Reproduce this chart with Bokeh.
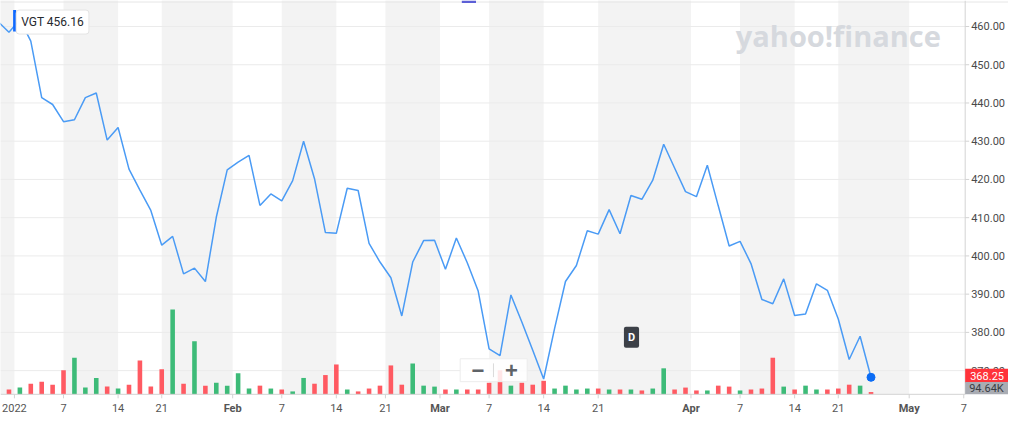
import numpy as np
import pandas as pd
from bokeh.plotting import figure
from bokeh.models import Range1d, ColumnDataSource, Label
from bokeh.core.properties import value
from bokeh.embed import file_html
from bokeh.resources import INLINE

# ---------------- data ----------------
symbol = "VGT"
holidays = ["2022-01-17", "2022-02-21", "2022-04-15"]
trading_days = [d for d in pd.bdate_range("2021-12-30", "2022-05-13")
                if d.strftime("%Y-%m-%d") not in holidays]

# daily closes, Dec 30 2021 .. Apr 26 2022
close = [461.3, 458.5, 461.8, 456.16, 441.4, 439.6, 435.1, 435.6, 441.4, 442.6,
         430.3, 433.6, 422.7, 417.2, 411.9, 402.8, 405.1, 395.3, 396.8, 393.3,
         410.1, 422.5, 424.5, 426.3, 413.2, 416.2, 414.4, 419.7, 430.0, 420.2,
         406.1, 405.9, 417.7, 417.1, 403.3, 398.4, 394.3, 384.3, 398.4, 404.0,
         404.1, 396.5, 404.7, 398.2, 390.8, 375.7, 373.9, 389.8, 382.7, 375.3,
         367.8, 381.0, 393.3, 397.5, 406.6, 405.7, 412.1, 405.8, 415.8, 414.8,
         419.8, 429.2, 423.0, 416.8, 415.5, 423.7, 413.1, 402.6, 403.8, 398.0,
         388.6, 387.5, 394.0, 384.4, 384.8, 392.7, 391.0, 383.5, 372.9, 379.0,
         368.25]
# volume in thousands of shares (same days)
volume = [0, 200, 280, 440, 520, 400, 1000, 1520, 280, 680, 320, 240, 400, 1400, 320,
          1040, 3520, 440, 2200, 360, 480, 360, 880, 240, 360, 240, 200, 120, 680, 440,
          800, 1240, 200, 120, 240, 360, 1200, 400, 1280, 360, 320, 200, 200, 200, 200,
          480, 1000, 360, 480, 400, 560, 240, 360, 200, 240, 240, 200, 200, 200, 160,
          240, 1080, 200, 280, 160, 160, 360, 320, 160, 200, 240, 1520, 320, 200, 360,
          200, 200, 240, 400, 360, 94.64]

tick_dates = ["2022-01-01", "2022-01-07", "2022-01-14", "2022-01-21", "2022-02-01",
              "2022-02-07", "2022-02-14", "2022-02-21", "2022-03-01", "2022-03-07",
              "2022-03-14", "2022-03-21", "2022-04-01", "2022-04-07", "2022-04-14",
              "2022-04-21", "2022-05-01", "2022-05-07"]
tick_labels = ["2022", "7", "14", "21", "Feb", "7", "14", "21", "Mar", "7", "14", "21",
               "Apr", "7", "14", "21", "May", "7"]
price_ticks = [370, 380, 390, 400, 410, 420, 430, 440, 450, 460]

# ---------------- derived ----------------
td = pd.DatetimeIndex(trading_days)
n = len(close)
xs = list(range(-1, n - 1))            # Dec 31 2021 is index 0 (trading-day axis)
colors = ["#ff5a62" if i == 0 or close[i] < close[i - 1] else "#3dbb78" for i in range(n)]


def tick_pos(ds, lab):
    d = pd.Timestamp(ds)
    j = int(td.searchsorted(d))
    if td[j] == d and lab.isdigit():
        return j - 1.0
    return j - 1.5


tpos = [tick_pos(d, l) for d, l in zip(tick_dates, tick_labels)]

# view window (whole chart incl. price-axis strip and date strip)
FW, FH = 1008, 415
XR0, XR1, XE = -0.776, 91.6, 87.63         # XE: edge of price area
YR0, YR1, YB = 358.26, 466.8, 363.8        # YB: date axis line
VR0, VR1 = -880, 16360
sx = FW / (XR1 - XR0)
sy = FH / (YR1 - YR0)
vy = FH / (VR1 - VR0)
FONT = value("Roboto")

p = figure(width=FW, height=FH, output_backend="svg", toolbar_location=None,
           x_range=Range1d(XR0, XR1), y_range=Range1d(YR0, YR1),
           x_axis_location=None, y_axis_location=None,
           min_border=0, background_fill_color="white", border_fill_color="white")
p.extra_y_ranges = {"vol": Range1d(VR0, VR1)}
p.outline_line_color = None
p.grid.visible = False

# alternating background bands between date ticks
bl, br = [XR0 - 5], [tpos[0]]
for k in range(1, len(tpos) - 1, 2):
    bl.append(tpos[k]); br.append(min(tpos[k + 1], XE))
p.quad(left=bl, right=br, bottom=YB, top=YR1 + 5, fill_color="#f3f3f3", line_color=None)

# horizontal price grid
p.segment(x0=[XR0] * len(price_ticks), x1=[XE] * len(price_ticks),
          y0=price_ticks, y1=price_ticks, line_color="#ebebeb", line_width=1)
# top border
p.segment(x0=[XR0], x1=[XR1], y0=[YR1 - 1.5 / sy], y1=[YR1 - 1.5 / sy],
          line_color="#e6e6e6", line_width=1)

# watermark
p.text(x=[85.4], y=[457.6], text=["yahoo!finance"], text_align="right",
       text_baseline="alphabetic", text_font=value("Open Sans"), text_font_style="bold",
       text_font_size="29px", text_color="#d6d9de")

# volume bars
vsrc = ColumnDataSource(dict(x=xs, v=volume, c=colors))
p.vbar(x="x", top="v", bottom=0, width=0.42, fill_color="c", line_color=None,
       y_range_name="vol", source=vsrc)

# price line
p.line(xs, close, line_color="#4a9bf5", line_width=1.5)
p.scatter([xs[-1]], [close[-1]], size=8, fill_color="#0b6cf5", line_color="#0b6cf5")

# ----- price axis (right) -----
p.segment(x0=[XE], x1=[XE], y0=[YB], y1=[YR1], line_color="#d3d3d3")
p.segment(x0=[XE] * len(price_ticks), x1=[XE + 4 / sx] * len(price_ticks),
          y0=price_ticks, y1=price_ticks, line_color="#d3d3d3")
p.text(x=[XE + 6 / sx] * len(price_ticks), y=price_ticks,
       text=[f"{t:.2f}" for t in price_ticks], text_align="left", text_baseline="middle",
       text_font=FONT, text_font_size="11px", text_color="#4a4a4a")

# ----- date axis (bottom) -----
p.segment(x0=[XR0], x1=[XE], y0=[YB], y1=[YB], line_color="#d3d3d3")
p.segment(x0=tpos, x1=tpos, y0=[YB] * len(tpos), y1=[YB - 4 / sy] * len(tpos),
          line_color="#d3d3d3")
ly = YB - 14 / sy
bold_idx = [i for i, l in enumerate(tick_labels) if not l.isdigit()]
norm_idx = [i for i, l in enumerate(tick_labels) if l.isdigit()]
for idx, style in ((bold_idx, "bold"), (norm_idx, "normal")):
    p.text(x=[tpos[i] for i in idx], y=[ly] * len(idx), text=[tick_labels[i] for i in idx],
           text_align="center", text_baseline="middle", text_font=FONT,
           text_font_size="11px", text_font_style=style, text_color="#555555")

# symbol box
p.quad(left=[0.38], right=[0.66], bottom=[458.7], top=[464.3],
       fill_color="#0f69ff", line_color=None)
p.add_layout(Label(x=0.66, y=464.3, text=f"{symbol} {close[3]:.2f}", text_align="left",
                   text_baseline="top", text_font="Roboto", text_font_size="12px",
                   text_color="#26292e", background_fill_color="white",
                   border_line_color="#e4e4e4", padding=5, border_radius=3))

# D badge
p.add_layout(Label(x=57.05, y=378.7, text="D", text_align="center",
                   text_baseline="middle", text_font="Roboto", text_font_style="bold",
                   text_font_size="11px", text_color="white",
                   background_fill_color="#3c4047", padding=4, border_radius=2))

# zoom control
p.quad(left=[41.35], right=[47.49], bottom=[367.1], top=[373.1],
       fill_color="white", fill_alpha=0.85, line_color="#ececec")
p.segment(x0=[44.4], x1=[44.4], y0=[368.3], y1=[371.9], line_color="#dadada")
p.text(x=[42.98, 46.05], y=[370.1, 370.1], text=["\u2212", "+"], text_align="center",
       text_baseline="middle", text_font_size="22px", text_font_style="bold",
       text_color="#5f6368")

# top drag handle
p.quad(left=[41.5], right=[42.8], bottom=[YR1 - 2.5 / sy], top=[YR1],
       fill_color="#5c5fd6", line_color=None)

# last price badge
p.quad(left=[XE], right=[XR1], bottom=[close[-1] - 5.5 / sy], top=[close[-1] + 8.5 / sy],
       fill_color="#ff333a", line_color=None)
p.text(x=[XE + 5 / sx], y=[close[-1] + 1.5 / sy], text=[f"{close[-1]:.2f}"],
       text_align="left", text_baseline="middle", text_font=FONT, text_font_size="11px",
       text_color="white")
# last volume badge
p.quad(left=[XE], right=[XR1], bottom=[0], top=[12.3 / vy], fill_color="#a9acb3",
       line_color=None, y_range_name="vol")
p.text(x=[XE + 4 / sx], y=[6.2 / vy], text=[f"{volume[-1]:.2f}K"], text_align="left",
       text_baseline="middle", text_font=FONT, text_font_size="11px",
       text_color="#3a3d44", y_range_name="vol")

open("out.html", "w").write(file_html(p, INLINE))
